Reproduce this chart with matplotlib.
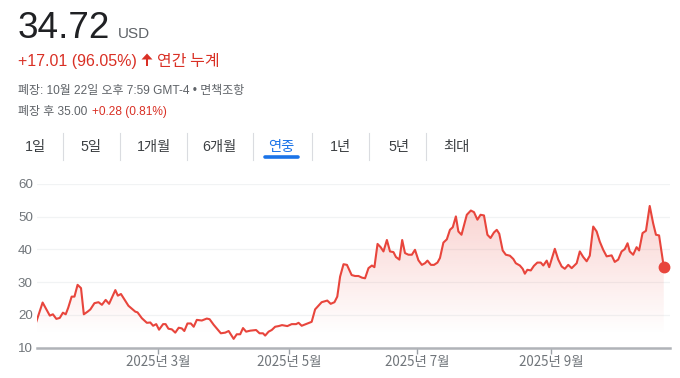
import numpy as np
import matplotlib
matplotlib.use("Agg")
import matplotlib.pyplot as plt
from matplotlib.colors import to_rgb

# trading-day index (from Jan 2, 2025) and closing price
day = [0, 2, 4.3, 5.3, 6.4, 7.5, 8.5, 9.4, 10.2, 11.3, 12.2, 13.2, 14.3, 15.2,
       16.4, 17.3, 18.6, 19.9, 21, 22.2, 23.3, 25.3, 26.1, 27.1, 29.5, 31.7,
       32.4, 33.8, 35.4, 36.5, 37.4, 38.4, 39.3, 40.6, 41.4, 42.3, 43.4, 44.5,
       45.6, 46.6, 47.4, 48.4, 49.5, 50.4, 51.4, 53, 54.6, 55.5, 56.8, 59.1,
       60.5, 61.6, 63.2, 64.2, 65.3, 66.2, 67.2, 68.5, 70.4, 71.5, 72.6, 73.3,
       74.4, 75.4, 76.5, 77.6, 78.7, 80.4, 81.8, 83.2, 84, 85, 88.2, 89.3,
       91.4, 93.2, 94.3, 95.5, 96.4, 97.3, 98.4, 99.5, 101, 102.1, 103.2,
       104.3, 105.3, 106.4, 107.5, 108.3, 109.3, 110.3, 111.2, 112.3, 113.3,
       114.4, 115.2, 116.3, 117.2, 118.1, 119.2, 120.3, 121.3, 122.4, 123.5,
       124.5, 125.3, 126.4, 127.4, 128.5, 129.3, 130.4, 131.5, 132.5, 133.4,
       134.4, 135.2, 136.2, 137.9, 139.2, 140.2, 141.3, 142.3, 143.4, 144.5,
       145.5, 146.6, 147.5, 148.3, 149.4, 150.4, 151.7, 152.8, 153.6, 154.9,
       155.8, 156.5, 157.3, 158.4, 159.4, 160.5, 161.6, 162.4, 163.5, 164.3,
       166.1, 167.2, 168.3, 169.3, 170.4, 171.5, 173.1, 174.1, 175.2, 176.3,
       177.3, 178.4, 179.5, 180.5, 181.6, 182.7, 184.3, 185.3, 186.4, 187.5,
       188.5, 189.4, 190.1, 191.2, 192.3, 193.1, 194.2, 195.3, 196.5, 197.6,
       198.5, 199.5, 201]
price = [18.0, 23.8, 19.8, 20.2, 18.8, 19.1, 20.7, 20.2, 22.2, 25.6, 25.6, 29.2,
         28.2, 20.2, 21.0, 21.7, 23.6, 23.9, 23.1, 24.6, 23.4, 27.6, 25.9, 26.4,
         22.8, 21.0, 20.8, 19.0, 17.6, 17.7, 16.7, 17.2, 15.5, 17.2, 17.2, 15.8,
         15.6, 14.6, 16.1, 15.9, 15.1, 17.4, 17.4, 16.4, 18.5, 18.3, 18.9, 18.7,
         17.0, 14.4, 14.6, 15.1, 12.7, 14.1, 14.1, 16.0, 14.9, 15.2, 15.4, 14.4,
         14.4, 13.7, 14.9, 15.4, 16.4, 16.6, 16.9, 16.6, 17.2, 17.2, 17.6, 16.7,
         17.9, 21.7, 23.9, 24.4, 23.4, 23.9, 25.6, 31.7, 35.5, 35.3, 32.2, 31.9,
         31.9, 31.4, 31.2, 34.3, 35.1, 34.6, 41.7, 40.7, 39.4, 42.9, 39.4, 39.2,
         37.7, 36.9, 42.9, 38.9, 38.4, 38.4, 39.9, 36.7, 35.3, 35.8, 36.6, 35.3,
         35.3, 36.0, 37.4, 42.1, 43.1, 46.0, 46.8, 50.1, 45.5, 44.5, 50.6, 51.9,
         51.4, 49.1, 50.6, 50.4, 44.5, 43.5, 45.2, 46.0, 44.8, 39.7, 38.4, 38.1,
         37.1, 35.8, 35.1, 34.1, 32.6, 33.8, 33.6, 35.0, 36.0, 36.0, 35.1, 36.6,
         34.6, 40.2, 36.9, 34.8, 34.1, 35.3, 34.3, 35.8, 39.4, 37.7, 36.4, 38.1,
         47.0, 45.5, 42.4, 39.9, 37.9, 38.2, 36.2, 36.9, 39.4, 40.1, 41.9, 39.4,
         38.4, 40.7, 39.7, 45.0, 45.7, 53.3, 48.0, 44.5, 44.3, 34.72]

tick_days = [39, 81, 122, 165]
tick_labels = ["2025년 3월", "2025년 5월", "2025년 7월", "2025년 9월"]
y_ticks = [10, 20, 30, 40, 50, 60]
tabs = ["1일", "5일", "1개월", "6개월", "연중", "1년", "5년", "최대"]
tab_x = [25, 80, 137, 202, 268, 330, 388, 443]
sep_x = [63, 120, 187, 253, 312, 369, 426]

RED = "#d93025"
LINE = "#e8453c"
GRAY = "#5f6368"
W, H = 680, 378
FAM = ["Liberation Sans", "Noto Sans CJK KR", "DejaVu Sans"]
KFAM = ["Noto Sans CJK KR", "DejaVu Sans"]

fig = plt.figure(figsize=(W / 100, H / 100), dpi=100)


def P(x, y):
    return x / W, 1 - y / H


# header
fig.text(*P(18, 38), "34.72", fontsize=26.6, color="#202124", family=FAM, va="baseline")
fig.text(*P(118, 38), "USD", fontsize=11, color=GRAY, family=FAM, va="baseline")
fig.text(*P(18, 66), "+17.01 (96.05%)", fontsize=11.5, color=RED, family=FAM, va="baseline")
# small up arrow
head = plt.Polygon([P(141.5, 59.5), P(152.5, 59.5), P(147, 53.5)], closed=True,
                   color=RED, lw=0, transform=fig.transFigure)
stem = plt.Polygon([P(145.7, 59), P(148.3, 59), P(148.3, 66), P(145.7, 66)], closed=True,
                   color=RED, lw=0, transform=fig.transFigure)
fig.add_artist(head)
fig.add_artist(stem)
fig.text(*P(157, 66), "연간 누계", fontsize=11.5, color=RED, family=KFAM, va="baseline")
fig.text(*P(18, 94), "폐장: 10월 22일 오후 7:59 GMT-4 • 면책조항", fontsize=8.6, color=GRAY,
         family=FAM, va="baseline")
fig.text(*P(18, 115), "폐장 후 35.00", fontsize=8.6, color=GRAY, family=FAM, va="baseline")
fig.text(*P(92, 115), "+0.28 (0.81%)", fontsize=8.6, color=RED, family=FAM, va="baseline")

for lab, x in zip(tabs, tab_x):
    sel = lab == "연중"
    fig.text(*P(x, 151), lab, fontsize=10.3, color="#1a73e8" if sel else "#3c4043",
             family=FAM, va="baseline", weight="medium" if sel else "normal")
for x in sep_x:
    fig.add_artist(plt.Line2D([x / W] * 2, [1 - 133 / H, 1 - 160 / H], color="#dadce0", lw=0.8))
fig.add_artist(plt.Line2D([265 / W, 298 / W], [1 - 157 / H] * 2, color="#1a73e8", lw=2.6,
                          solid_capstyle="round"))

# chart
ax = fig.add_axes([37 / W, 1 - 347.7 / H, (670 - 37) / W, (347.7 - 184) / H])
ax.set_xlim(0.2, 203)
ax.set_ylim(10, 60)

# gradient fill under the line
r, g, b = to_rgb(LINE)
ny = 200
alpha = np.clip((np.linspace(10, 60, ny) - 14) / (54 - 14), 0, 1) * 0.24
grad = np.zeros((ny, 2, 4))
grad[..., 0], grad[..., 1], grad[..., 2] = r, g, b
grad[..., 3] = alpha[:, None]
im = ax.imshow(grad, extent=(0.2, 203, 10, 60), origin="lower", aspect="auto", zorder=1)
poly = ax.fill_between(day, price, 10, color="none", lw=0)
im.set_clip_path(poly.get_paths()[0], transform=ax.transData)

ax.plot(day, price, color=LINE, lw=1.5, zorder=3, solid_joinstyle="round")
ax.plot(day[-1], price[-1], "o", color=LINE, ms=7.5, zorder=4)

for s in ["left", "right", "top"]:
    ax.spines[s].set_visible(False)
ax.spines["bottom"].set_color("#b0b3b8")
ax.spines["bottom"].set_linewidth(1.8)
ax.set_yticks(y_ticks)
ax.set_yticklabels([str(v) for v in y_ticks], fontsize=9.6, color="#70757a", family=FAM)
ax.tick_params(axis="y", length=0, pad=3)
ax.set_xticks(tick_days)
ax.set_xticklabels(tick_labels, fontsize=9.6, color="#70757a", family=KFAM)
ax.tick_params(axis="x", length=4, width=1, color="#9aa0a6", pad=1)
ax.grid(axis="y", color="#f1f3f4", lw=0.9)
ax.set_axisbelow(True)

fig.savefig("out.png", dpi=100)
